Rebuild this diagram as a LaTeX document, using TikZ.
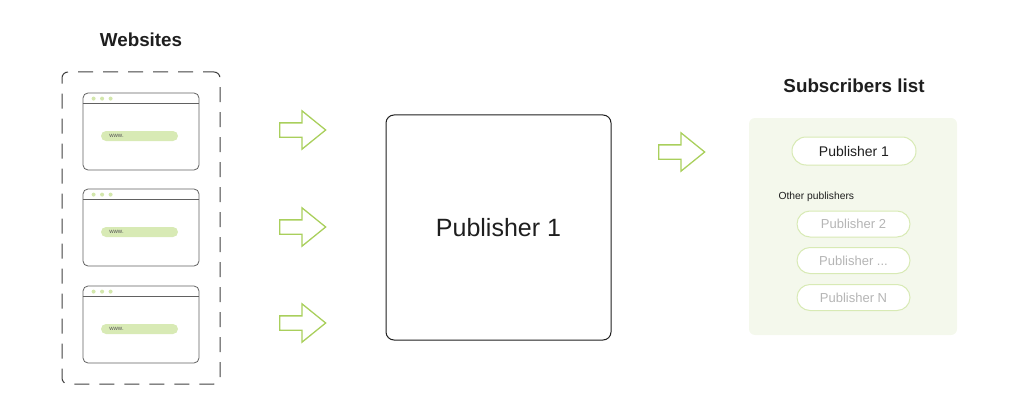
\documentclass[tikz,border=0pt]{standalone}
\usepackage{fontspec}
\setmainfont{Liberation Sans}
\usetikzlibrary{shapes.arrows, positioning, calc}
\definecolor{verdeFreccia}{HTML}{A9CF5C}
\definecolor{verdeChiaro}{HTML}{D8EAB5}
\definecolor{verdeSfondo}{HTML}{F4F8EC}
\definecolor{grigioTesto}{HTML}{B5B5B5}
\definecolor{nero}{HTML}{1E1E1E}

\begin{document}
\begin{tikzpicture}[x=1pt, y=-1pt,
    freccia/.style = {single arrow, draw=verdeFreccia, line width=1.3pt, minimum height=46pt, inner sep=6.5pt, single arrow head extend=12pt, single arrow tip angle=78, anchor=tail},
    finestra/.style = {draw=nero!70, line width=0.8pt, rounded corners=5pt, minimum width=116pt, minimum height=77pt},
    barra/.style = {fill=verdeChiaro, rounded corners=5pt, minimum width=77pt, minimum height=10pt, inner sep=0pt},
    pillola/.style = {draw=verdeChiaro, fill=white, line width=1pt, rounded corners=13pt, minimum width=113pt, minimum height=26pt, inner sep=0pt},
    titolo/.style = {font=\bfseries\fontsize{18.8}{22}\selectfont, text=nero}
  ]
    \useasboundingbox (0,0) rectangle (1024,417);
    % Siti
    \node[titolo] (titoloSiti) at (141,40) {Websites};
    \node[draw=nero!85, dash pattern=on 15pt off 10pt, dash phase=4pt, line width=1pt, rounded corners=6pt, minimum width=158pt, minimum height=312pt] (siti) at (141,228) {};
    \foreach \n/\y in {1/131.5, 2/227.5, 3/324.5} {
        \node[finestra] (win\n) at (141,\y) {};
        \draw[nero!70, line width=0.8pt] ($(win\n.north west)+(0,11)$) -- ($(win\n.north east)+(0,11)$);
        \foreach \dx in {11, 19.5, 28}
            \fill[verdeChiaro!90!verdeFreccia] ($(win\n.north west)+(\dx,6)$) circle (2pt);
        \node[barra] (bar\n) at ($(win\n.center)+(-1.5,4.5)$) {};
        \node[anchor=west, font=\fontsize{6}{7}\selectfont, text=nero!75] (www\n) at ($(bar\n.west)+(5,0)$) {www.};
    }
    % Frecce
    \foreach \n/\y in {1/130, 2/227, 3/323}
        \node[freccia] (freccia\n) at (279,\y) {};
    \node[freccia] (frecciaLista) at (658,152) {};
    % Publisher
    \node[draw=nero, line width=1pt, rounded corners=8pt, minimum width=225pt, minimum height=225pt, font=\fontsize{25}{30}\selectfont, text=nero] (pub) at (498.5,227.5) {Publisher 1};
    % Lista iscritti
    \node[titolo] (titoloLista) at (854,86) {Subscribers list};
    \node[fill=verdeSfondo, rounded corners=6pt, minimum width=208pt, minimum height=217pt] (lista) at (853,226.5) {};
    \node[pillola, minimum width=124pt, minimum height=28pt, rounded corners=14pt, font=\fontsize{14}{17}\selectfont, text=nero] (p1) at (854,151) {Publisher 1};
    \node[anchor=west, font=\fontsize{10.3}{13}\selectfont, text=nero] (altri) at (775,197) {Other publishers};
    \node[pillola, font=\fontsize{13}{16}\selectfont, text=grigioTesto] (p2) at (853.5,224) {Publisher 2};
    \node[pillola, font=\fontsize{13}{16}\selectfont, text=grigioTesto, below=9.5pt of p2] (pdots) {Publisher ...};
    \node[pillola, font=\fontsize{13}{16}\selectfont, text=grigioTesto, below=10pt of pdots] (pN) {Publisher N};
\end{tikzpicture}
\end{document}
